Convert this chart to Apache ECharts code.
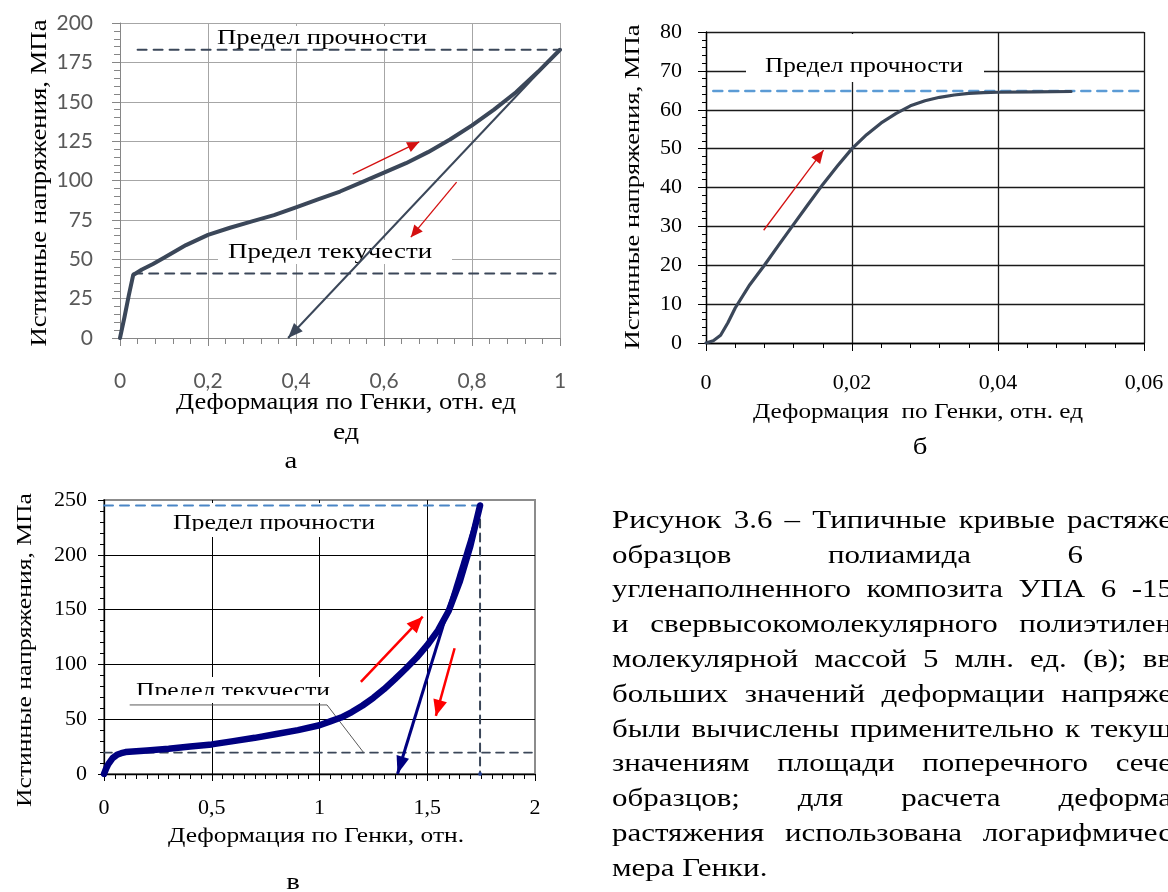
<!DOCTYPE html>
<html><head><meta charset="utf-8">
<script src="https://cdn.jsdelivr.net/npm/echarts@6/dist/echarts.min.js"></script>
<style>html,body{margin:0;padding:0;background:#fff}#c{width:1168px;height:892px}</style>
</head><body><div id="c"></div>
<script>
// ---------- Chart а (полиамид 6) ----------
const aStrain = [0, 0.01, 0.02, 0.03, 0.05, 0.075, 0.1, 0.15, 0.2, 0.25, 0.3, 0.35, 0.4, 0.45, 0.5, 0.55, 0.6, 0.65, 0.7, 0.75, 0.8, 0.85, 0.9, 0.95, 1.0];
const aStress = [0, 13, 27, 40, 43.5, 47, 51, 59, 65.5, 70, 74, 78, 83, 88, 93, 99, 105, 111, 118, 126, 135, 145, 156, 169, 183];
const aUTS = 183, aUtsFrom = 0.04, aUtsTo = 1.0;
const aYield = 41, aYieldFrom = 0.03, aYieldTo = 0.99;
const aUnload = [[1.0, 183], [0.382, 0]];
const aRedArrows = [[[0.529, 104], [0.68, 124.5]], [[0.765, 99], [0.661, 64]]];
const aXLabels = ['0', '0,2', '0,4', '0,6', '0,8', '1'];
const aYLabels = ['0', '25', '50', '75', '100', '125', '150', '175', '200'];

// ---------- Chart б (УПА 6-15) ----------
const bStrain = [0, 0.001, 0.002, 0.003, 0.004, 0.006, 0.008, 0.010, 0.012, 0.014, 0.016, 0.018, 0.020, 0.022, 0.024, 0.026, 0.028, 0.030, 0.032, 0.034, 0.036, 0.038, 0.040, 0.045, 0.050];
const bStress = [0, 0.6, 2.0, 5.2, 9.0, 15, 20, 25.3, 30.5, 35.7, 40.8, 45.5, 50, 53.6, 56.6, 59, 61, 62.3, 63.2, 63.8, 64.2, 64.4, 64.5, 64.6, 64.7];
const bUTS = 64.8, bUtsFrom = 0.001, bUtsTo = 0.06;
const bRedArrow = [[0.0079, 29], [0.0161, 49.6]];
const bXLabels = ['0', '0,02', '0,04', '0,06'];
const bYLabels = ['0', '10', '20', '30', '40', '50', '60', '70', '80'];

// ---------- Chart в (СВМПЭ) ----------
const vStrain = [0, 0.01, 0.02, 0.04, 0.06, 0.08, 0.1, 0.15, 0.2, 0.3, 0.4, 0.5, 0.6, 0.7, 0.8, 0.9, 1.0, 1.05, 1.1, 1.15, 1.2, 1.25, 1.3, 1.35, 1.4, 1.45, 1.5, 1.55, 1.6, 1.65, 1.7, 1.745];
const vStress = [0, 5, 9, 14.5, 17.5, 19, 20, 20.8, 21.5, 23, 25, 27, 30, 33, 36.5, 40, 44.5, 48, 51.5, 56.5, 62.5, 69.5, 77.5, 86.5, 96, 106, 117.5, 131, 149, 175, 208, 245];
const vUTS = 245, vUtsFrom = 0, vUtsTo = 1.757;
const vYield = 19.5, vYieldFrom = 0, vYieldTo = 2.0;
const vBreakX = 1.745;
const vUnload = [[1.745, 245], [1.362, 0]];
const vRedArrows = [[[1.192, 84], [1.479, 143.5]], [[1.627, 114.7], [1.54, 53]]];
const vCallout = [[0.121, 63], [1.035, 63], [1.203, 20]];
const vXLabels = ['0', '0,5', '1', '1,5', '2'];
const vYLabels = ['0', '50', '100', '150', '200', '250'];

const captionLines = [
  'Рисунок 3.6 – Типичные кривые растяже',
  'образцов полиамида 6',
  'угленаполненного композита УПА 6 -15',
  'и свервысокомолекулярного полиэтилен',
  'молекулярной массой 5 млн. ед. (в); вв',
  'больших значений деформации напряже',
  'были вычислены применительно к текущ',
  'значениям площади поперечного сече',
  'образцов; для расчета деформа',
  'растяжения использована логарифмичес',
  'мера Генки.'
];

// ---------- helpers ----------
const zip = (xs, ys) => xs.map((x, i) => [x, ys[i]]);
const SERIF = '"Liberation Serif"';
const mctx = document.createElement('canvas').getContext('2d');
function measure(t, size, fam) { mctx.font = size + 'px ' + fam; return mctx.measureText(t).width; }
function txt(text, x, y, o) {
  o = o || {};
  const size = o.size || 22, fam = o.family || SERIF;
  const nat = measure(text, size, fam);
  const sx = o.width ? o.width / nat : (o.sx || 1);
  const al = o.align || 'center';
  return { type: 'text', x: x, y: y, rotation: o.rot || 0, scaleX: sx, scaleY: 1, z: o.z == null ? 6 : o.z, silent: true,
    style: { text: text, font: size + 'px ' + fam, fill: o.color || '#000', textAlign: al, textVerticalAlign: 'middle', align: al, verticalAlign: 'middle' } };
}
function rect(x, y, w, h, z) { return { type: 'rect', shape: { x: x, y: y, width: w, height: h }, style: { fill: '#fff' }, z: z, silent: true }; }
function justify(line, x0, R, y, size, sx) {
  const words = line.split(' ');
  const ws = words.map(w => measure(w, size, SERIF) * sx);
  const total = ws.reduce((a, b) => a + b, 0);
  let gap = words.length > 1 && R != null ? (R - x0 - total) / (words.length - 1) : 0;
  const minGap = measure(' ', size, SERIF) * sx;
  if (gap < minGap) gap = minGap;
  let x = x0; const out = [];
  words.forEach((w, i) => { out.push(txt(w, x, y, { size: size, sx: sx, align: 'left' })); x += ws[i] + gap; });
  return out;
}
function lbl(arr, step) { return function (v) { const i = Math.round(v / step); return arr[i] == null ? '' : arr[i]; }; }

function lineSeries(name, xi, data, color, width, dash) {
  return { name: name, type: 'line', xAxisIndex: xi, yAxisIndex: xi, data: data, symbol: 'none', silent: true, z: 5,
    lineStyle: { color: color, width: width, type: dash ? dash : 'solid', join: 'round', cap: 'round' } };
}
const arrowDefs = [];
function arrowSeries(name, xi, seg, color, width, headW, headL) {
  const idx = arrowDefs.length;
  arrowDefs.push({ xi: xi, seg: seg, headW: headW, headL: headL });
  return { name: name, type: 'line', xAxisIndex: xi, yAxisIndex: xi, silent: true, z: 6, clip: false,
    showSymbol: true, symbol: 'none', itemStyle: { color: color },
    lineStyle: { color: color, width: width },
    data: [{ value: seg[0], symbol: 'none' }, { value: seg[1], symbol: 'none' }], _arrow: idx };
}

// ---------- axes ----------
const grayAx = '#868686';
const xAxes = [
  { gridIndex: 0, type: 'value', min: 0, max: 1, interval: 0.2,
    axisLine: { lineStyle: { color: grayAx } }, axisTick: { length: 8, lineStyle: { color: grayAx } },
    minorTick: { show: true, splitNumber: 5, length: 6, lineStyle: { color: grayAx } },
    splitLine: { lineStyle: { color: '#a6a6a6', width: 1 } },
    axisLabel: { margin: 33, fontFamily: 'Lato', fontSize: 21, color: '#595959', formatter: lbl(aXLabels, 0.2) } },
  { gridIndex: 1, type: 'value', min: 0, max: 0.06, interval: 0.02,
    axisLine: { lineStyle: { color: '#000', width: 1.3 } }, axisTick: { length: 8, lineStyle: { color: '#000' } },
    minorTick: { show: true, splitNumber: 5, length: 5, lineStyle: { color: '#000' } },
    splitLine: { lineStyle: { color: '#1a1a1a', width: 1.3 } },
    axisLabel: { margin: 29, fontFamily: 'Liberation Serif', fontSize: 22, color: '#000', formatter: lbl(bXLabels, 0.02) } },
  { gridIndex: 2, type: 'value', min: 0, max: 2, interval: 0.5,
    axisLine: { lineStyle: { color: '#000', width: 1.3 } }, axisTick: { length: 7, lineStyle: { color: '#000' } },
    minorTick: { show: true, splitNumber: 10, length: 5, lineStyle: { color: '#000' } },
    splitLine: { showMaxLine: false, lineStyle: { color: '#000', width: 1 } },
    axisLabel: { margin: 23, fontFamily: 'Liberation Serif', fontSize: 22, color: '#000', formatter: lbl(vXLabels, 0.5) } }
];
const yAxes = [
  { gridIndex: 0, type: 'value', min: 0, max: 200, interval: 25,
    axisLine: { show: true, lineStyle: { color: grayAx } }, axisTick: { show: true, length: 8, lineStyle: { color: grayAx } },
    minorTick: { show: true, splitNumber: 5, length: 6, lineStyle: { color: grayAx } },
    splitLine: { lineStyle: { color: '#a6a6a6', width: 1 } },
    axisLabel: { margin: 27, fontFamily: 'Lato', fontSize: 21, color: '#595959', formatter: lbl(aYLabels, 25) } },
  { gridIndex: 1, type: 'value', min: 0, max: 80, interval: 10,
    axisLine: { show: true, lineStyle: { color: '#000', width: 1.3 } }, axisTick: { show: true, length: 8, lineStyle: { color: '#000' } },
    minorTick: { show: true, splitNumber: 5, length: 4, lineStyle: { color: '#000' } },
    splitLine: { lineStyle: { color: '#1a1a1a', width: 1.3 } },
    axisLabel: { margin: 24, fontFamily: 'Liberation Serif', fontSize: 22, color: '#000', formatter: lbl(bYLabels, 10) } },
  { gridIndex: 2, type: 'value', min: 0, max: 250, interval: 50,
    axisLine: { show: true, lineStyle: { color: '#000', width: 1.3 } }, axisTick: { show: true, length: 6, lineStyle: { color: '#000' } },
    minorTick: { show: true, splitNumber: 5, length: 4, lineStyle: { color: '#000' } },
    splitLine: { showMaxLine: false, lineStyle: { color: '#000', width: 1 } },
    axisLabel: { margin: 17, fontFamily: 'Liberation Serif', fontSize: 22, color: '#000', formatter: lbl(vYLabels, 50) } }
];

// ---------- series ----------
const slate = '#3b4759';
const series = [
  lineSeries('а: кривая', 0, zip(aStrain, aStress), slate, 4),
  lineSeries('а: предел прочности', 0, [[aUtsFrom, aUTS], [aUtsTo, aUTS]], slate, 2, [9, 7]),
  lineSeries('а: предел текучести', 0, [[aYieldFrom, aYield], [aYieldTo, aYield]], slate, 2, [9, 7]),
  arrowSeries('а: разгрузка', 0, aUnload, slate, 2, 12, 15),
  arrowSeries('а: стрелка 1', 0, aRedArrows[0], '#d41010', 1.3, 11, 12),
  arrowSeries('а: стрелка 2', 0, aRedArrows[1], '#d41010', 1.3, 11, 12),

  lineSeries('б: предел прочности', 1, [[bUtsFrom, bUTS], [bUtsTo, bUTS]], '#5b9bd5', 2.5, [9, 7]),
  lineSeries('б: кривая', 1, zip(bStrain, bStress), slate, 3.2),
  arrowSeries('б: стрелка', 1, bRedArrow, '#d41010', 1.3, 11, 13),

  lineSeries('в: предел прочности', 2, [[vUtsFrom, vUTS], [vUtsTo, vUTS]], '#4a86c6', 2, [9, 7]),
  lineSeries('в: предел текучести', 2, [[vYieldFrom, vYield], [vYieldTo, vYield]], slate, 1.6, [8, 6]),
  lineSeries('в: разрыв', 2, [[vBreakX, vUTS], [vBreakX, 0]], slate, 2, [8, 6]),
  lineSeries('в: выноска', 2, vCallout, '#5a5a5a', 1),
  lineSeries('в: кривая', 2, zip(vStrain, vStress), '#000080', 6.5),
  arrowSeries('в: разгрузка', 2, vUnload, '#000080', 3, 13, 18),
  arrowSeries('в: стрелка 1', 2, vRedArrows[0], '#ff0000', 2.5, 14, 16),
  arrowSeries('в: стрелка 2', 2, vRedArrows[1], '#ff0000', 2.5, 14, 16),
  { name: 'в: точка', type: 'scatter', xAxisIndex: 2, yAxisIndex: 2, data: [[vBreakX, 0]], symbolSize: 4, itemStyle: { color: '#2040a0' }, z: 6, silent: true }
];

// ---------- texts ----------
const g = [];
g.push(rect(214, 26, 218, 24, 1));
g.push(rect(218, 240, 234, 24, 1));
g.push(rect(746, 34, 238, 48, 1));
g.push(rect(160, 503, 225, 34, 1));
g.push(rect(132, 677, 200, 26, 1));
g.push(txt('Предел прочности', 217, 38, { size: 22, width: 210, align: 'left', z: 2 }));
g.push(txt('Предел текучести', 228, 252, { size: 22, width: 204, align: 'left', z: 2 }));
g.push(txt('Предел прочности', 765, 66, { size: 21, width: 198, align: 'left', z: 2 }));
g.push(txt('Предел прочности', 173, 523, { size: 21, width: 202, align: 'left', z: 2 }));
g.push(txt('Предел текучести', 136, 691, { size: 21, width: 194, align: 'left', z: 2 }));
g.push(rect(160, 531, 225, 6, 3));
g.push(rect(132, 695, 200, 8, 3));
g.push(txt('Истинные напряжения, МПа', 40, 183, { size: 23, width: 327, rot: Math.PI / 2 }));
g.push(txt('Деформация по Генки, отн. ед', 346, 403, { size: 23, width: 340 }));
g.push(txt('ед', 346, 433, { size: 23, sx: 1.2 }));
g.push(txt('а', 291, 462, { size: 24, sx: 1.2 }));
g.push(txt('Истинные напряжения, МПа', 633, 187, { size: 22, width: 325, rot: Math.PI / 2 }));
g.push(txt('Деформация  по Генки, отн. ед', 918, 412, { size: 22, width: 330 }));
g.push(txt('б', 920, 448, { size: 24, sx: 1.2 }));
g.push(txt('Истинные напряжения, МПа', 25, 650, { size: 22, width: 314, rot: Math.PI / 2 }));
g.push(txt('Деформация по Генки, отн.', 316, 836, { size: 22, width: 296 }));
g.push(txt('в', 293, 883, { size: 24, sx: 1.2 }));
const capRight = [1172, 1083, 1173, 1172, 1172, 1172, 1172, 1172, 1172, 1172, null];
captionLines.forEach((l, i) => {
  justify(l, 612, capRight[i], 521 + 34.8 * i, 26, 1.19).forEach(e => g.push(e));
});

const chart = echarts.init(document.getElementById('c'), null, { renderer: 'canvas', width: 1168, height: 892 });
chart.setOption({
  animation: false,
  backgroundColor: '#fff',
  grid: [
    { left: 120, top: 23, width: 440, height: 315 },
    { left: 706, top: 32, width: 438, height: 311 },
    { left: 104, top: 500, width: 431, height: 274, show: true, borderColor: '#8c8c8c', borderWidth: 2, backgroundColor: 'transparent' }
  ],
  xAxis: xAxes,
  yAxis: yAxes,
  series: series,
  graphic: { elements: g }
});

// orient arrow heads using the axis scales (pixel direction of each segment)
series.forEach(s => {
  if (s._arrow == null) return;
  const d = arrowDefs[s._arrow];
  const p0 = chart.convertToPixel({ gridIndex: d.xi }, d.seg[0]);
  const p1 = chart.convertToPixel({ gridIndex: d.xi }, d.seg[1]);
  const dx = p1[0] - p0[0], dy = p1[1] - p0[1];
  const len = Math.sqrt(dx * dx + dy * dy) || 1;
  const ux = dx / len, uy = dy / len;
  const deg = Math.atan2(-ux, -uy) * 180 / Math.PI;
  s.data = [
    { value: d.seg[0], symbol: 'none' },
    { value: d.seg[1], symbol: 'triangle', symbolSize: [d.headW, d.headL], symbolRotate: deg,
      symbolOffset: [-ux * d.headL / 2, -uy * d.headL / 2] }
  ];
  s.symbol = 'triangle';
});
chart.setOption({ series: series });
</script></body></html>
